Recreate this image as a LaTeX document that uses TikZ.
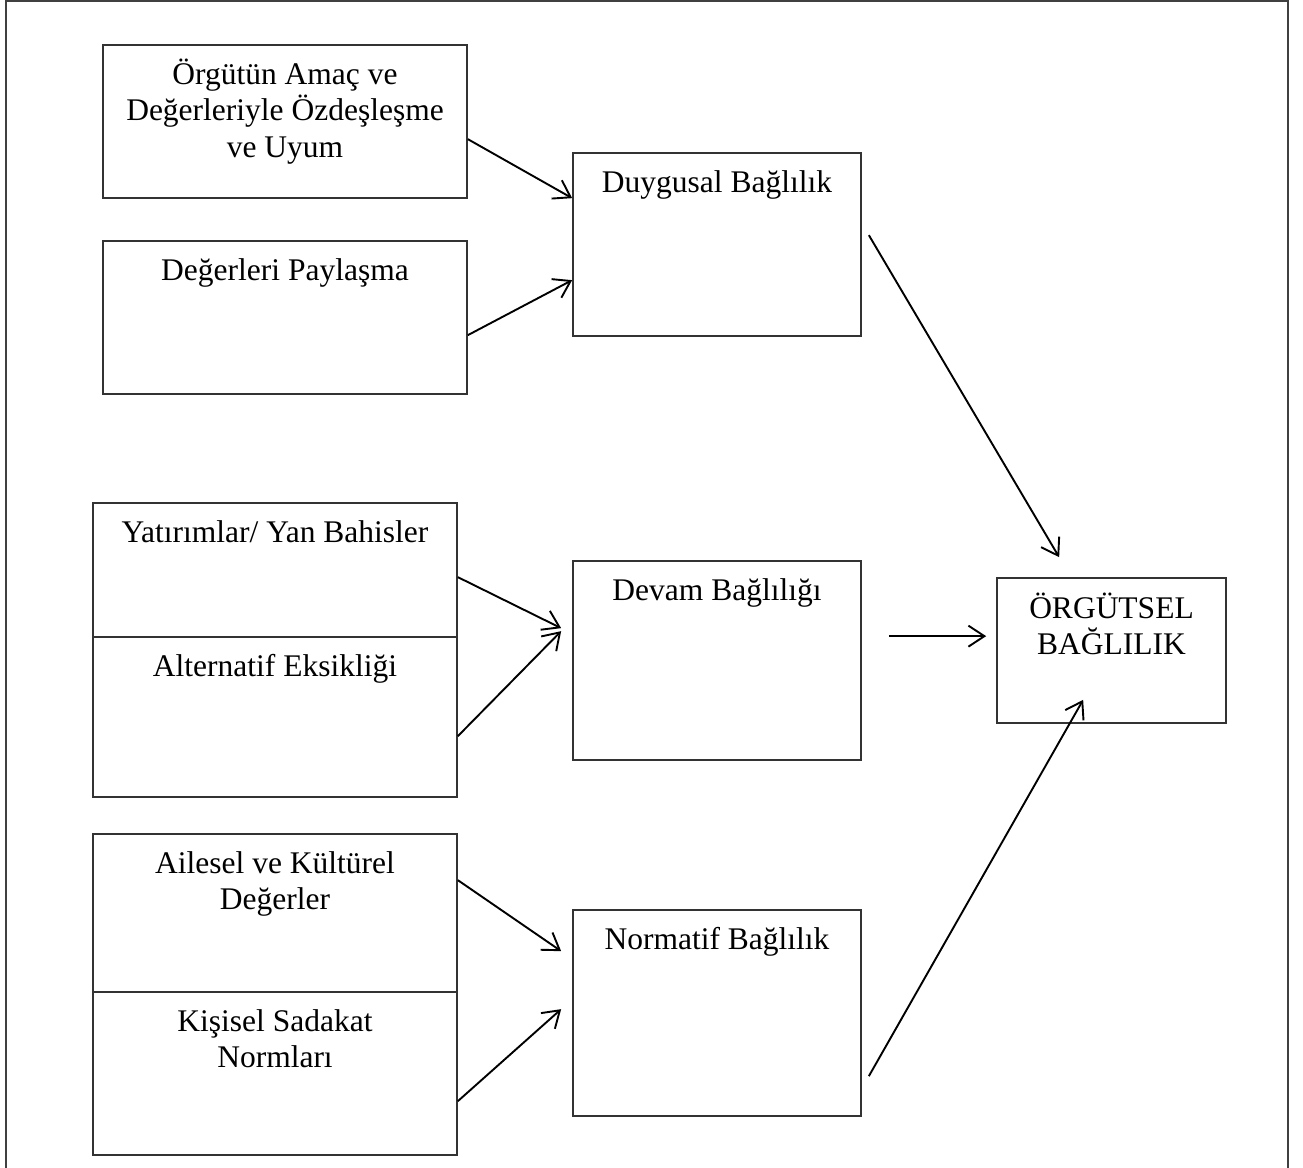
\documentclass[tikz,border=0pt]{standalone}
\usepackage{fontspec}
\setmainfont{Liberation Serif}
\usetikzlibrary{arrows.meta,calc,fit}

\begin{document}
\begin{tikzpicture}[x=0.5pt,y=-0.5pt,
  box/.style={draw=black!80, line width=0.85pt, inner sep=0pt},
  lbl/.style={anchor=base, inner sep=0pt, align=center,
    font=\fontsize{15.75pt}{18.3pt}\selectfont},
  arr/.style={draw=black, line width=0.95pt,
    -{Straight Barb[length=8pt,width=10.5pt,line width=0.95pt]}},
  frame/.style={draw=black!75, line width=1pt}]
  \useasboundingbox (0,0) rectangle (1303,1168);

  % outer frame
  \draw[frame] (6,1168) -- (6,1) -- (1288,1) -- (1288,1168);

  % source boxes
  \node[box, fit={(103,45) (467,198)}] (b1) {};
  \node[box, fit={(103,241) (467,394)}] (b2) {};
  \node[box, fit={(93,503) (457,637)}] (yat) {};
  \node[box, fit={(93,637) (457,797)}] (alt) {};
  \node[box, fit={(93,834) (457,992)}] (ail) {};
  \node[box, fit={(93,992) (457,1155)}] (kis) {};

  % commitment components
  \node[box, fit={(573,153) (861,336)}] (duy) {};
  \node[box, fit={(573,561) (861,760)}] (dev) {};
  \node[box, fit={(573,910) (861,1116)}] (nor) {};

  % overall commitment
  \node[box, fit={(997,578) (1226,723)}] (org) {};

  % labels (the base anchor of a multi-line label sits on its last line)
  \node[lbl] at ($(b1.north)+(0,113.2)$) {Örgütün Amaç ve\\Değerleriyle Özdeşleşme\\ve Uyum};
  \node[lbl] at ($(b2.north)+(0,40)$) {Değerleri Paylaşma};
  \node[lbl] at ($(yat.north)+(0,40)$) {Yatırımlar/ Yan Bahisler};
  \node[lbl] at ($(alt.north)+(0,40)$) {Alternatif Eksikliği};
  \node[lbl] at ($(ail.north)+(0,76.6)$) {Ailesel ve Kültürel\\Değerler};
  \node[lbl] at ($(kis.north)+(0,76.6)$) {Kişisel Sadakat\\Normları};
  \node[lbl] at ($(duy.north)+(0,40)$) {Duygusal Bağlılık};
  \node[lbl] at ($(dev.north)+(0,40)$) {Devam Bağlılığı};
  \node[lbl] at ($(nor.north)+(0,40)$) {Normatif Bağlılık};
  \node[lbl] at ($(org.north)+(0,77.6)$) {ÖRGÜTSEL\\BAĞLILIK};

  % connectors
  \draw[arr] ($(b1.north east)+(0,95)$) -- ($(duy.north west)+(0,46)$);
  \draw[arr] ($(b2.north east)+(0,95)$) -- ($(duy.north west)+(0,128)$);
  \draw[arr] ($(yat.north east)+(0,75)$) -- ($(dev.north west)+(-11,68)$);
  \draw[arr] ($(alt.north east)+(0,100)$) -- ($(dev.north west)+(-11,71)$);
  \draw[arr] ($(ail.north east)+(0,47)$) -- ($(nor.north west)+(-11,42)$);
  \draw[arr] ($(kis.north east)+(0,110)$) -- ($(nor.north west)+(-11,100)$);
  \draw[arr] ($(duy.north east)+(7,83)$) -- ($(org.north west)+(63,-20)$);
  \draw[arr] ($(dev.north east)+(27,76)$) -- ($(org.north west)+(-10,59)$);
  \draw[arr] ($(nor.north east)+(7,167)$) -- ($(org.south west)+(87,-24)$);
\end{tikzpicture}
\end{document}
